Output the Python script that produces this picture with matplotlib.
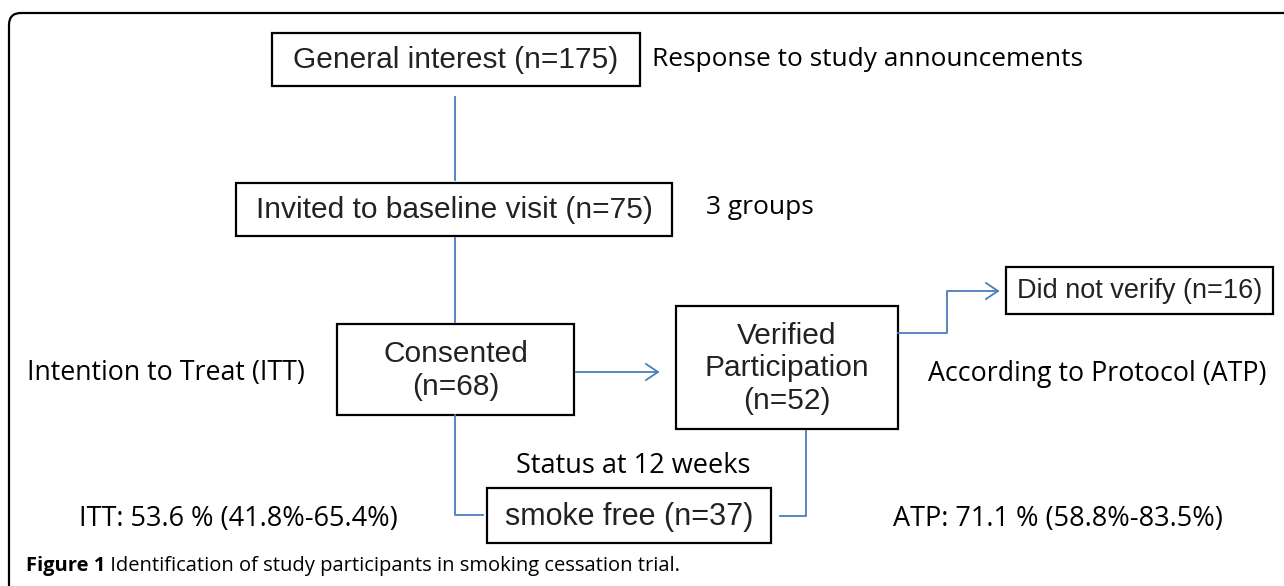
import matplotlib
matplotlib.use("Agg")
import matplotlib.pyplot as plt
from matplotlib.patches import FancyBboxPatch, Rectangle

# flowchart content
box_labels = [
    "General interest (n=175)",
    "Invited to baseline visit (n=75)",
    "Consented\n(n=68)",
    "Verified\nParticipation\n(n=52)",
    "Did not verify (n=16)",
    "smoke free (n=37)",
]
side_labels = [
    "Response to study announcements",
    "3 groups",
    "Intention to Treat (ITT)",
    "According to Protocol (ATP)",
    "Status at 12 weeks",
    "ITT: 53.6 % (41.8%-65.4%)",
    "ATP: 71.1 % (58.8%-83.5%)",
]
caption_bold = "Figure 1"
caption_text = " Identification of study participants in smoking cessation trial."

# layout in pixel coordinates: (x0, y0, x1, y1)
boxes = [
    (272, 33, 640, 86),
    (236, 183, 672, 236),
    (337, 324, 574, 415),
    (676, 306, 898, 429),
    (1006, 267, 1273, 314),
    (487, 488, 771, 543),
]
box_fs = [21.5, 21.5, 21.5, 21.5, 19.5, 22]
side_pos = [
    (652, 60, "left"),
    (706, 207, "left"),
    (27, 373, "left"),
    (928, 374, "left"),
    (633, 466, "center"),
    (79, 519, "left"),
    (893, 519, "left"),
]
side_fs = [18.9, 19, 19.3, 19.3, 19.5, 19.5, 19.5]

BLUE = "#4a7ebb"
W, H = 1284, 586

fig = plt.figure(figsize=(W / 100, H / 100), dpi=100)
ax = fig.add_axes([0, 0, 1, 1])
ax.set_xlim(0, W)
ax.set_ylim(H, 0)
ax.axis("off")

# outer frame
frame = FancyBboxPatch((9, 13), W + 20, H + 20, boxstyle="round,pad=0,rounding_size=12",
                       fc="white", ec="black", lw=1.6)
ax.add_patch(frame)

for (x0, y0, x1, y1), lab, fs in zip(boxes, box_labels, box_fs):
    ax.add_patch(Rectangle((x0, y0), x1 - x0, y1 - y0, fc="white", ec="black", lw=1.6))
    ax.text((x0 + x1) / 2, (y0 + y1) / 2 + 1, lab, ha="center", va="center",
            fontsize=fs, family="Liberation Sans", color="#222222", linespacing=1.2)

for (x, y, ha), lab, fs in zip(side_pos, side_labels, side_fs):
    ax.text(x, y, lab, ha=ha, va="center", fontsize=fs, family="Open Sans", color="black")

# connectors
line_kw = dict(color=BLUE, lw=1.3)
ax.plot([455, 455], [97, 180], **line_kw)
ax.plot([455, 455], [238, 322], **line_kw)
ax.plot([455, 455, 483], [415, 515, 515], **line_kw)
ax.plot([806, 806, 780], [431, 516, 516], **line_kw)
ax.plot([898, 947, 947, 998], [333, 333, 291, 291], **line_kw)
ax.plot([576, 658], [372, 372], **line_kw)
for (xe, ye) in [(658, 372), (998, 291)]:
    ax.plot([xe - 12, xe, xe - 12], [ye - 8, ye, ye + 8], **line_kw)

t = ax.text(26, 566, caption_bold, ha="left", va="center", fontsize=14.5,
            family="Open Sans", fontweight="bold")
fig.canvas.draw()
bb = t.get_window_extent().transformed(ax.transData.inverted())
ax.text(bb.x1, 566, caption_text, ha="left", va="center", fontsize=14.5,
        family="Open Sans")

fig.savefig("out.png", dpi=100)
